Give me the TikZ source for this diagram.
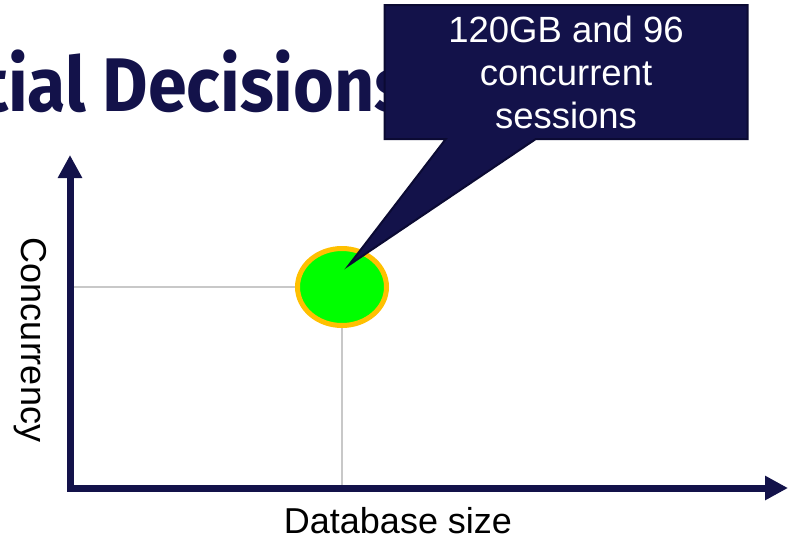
\documentclass[tikz,border=0pt]{standalone}
\usepackage{fontspec}
\setmainfont{Liberation Sans}
\newfontfamily\titlefont{Fira Sans}[FakeStretch=0.92]
\usetikzlibrary{arrows.meta,shapes.geometric,shapes.callouts}
\definecolor{navy}{HTML}{13124A}
\definecolor{navyedge}{HTML}{0B0A33}
\definecolor{guide}{HTML}{C8C8C8}
\definecolor{pointgreen}{HTML}{00FF00}
\definecolor{pointrim}{HTML}{FFC000}
\tikzset{
  axisline/.style={draw=navy, line width=7pt, line join=miter,
    {Triangle[length=23pt,width=23pt]}-{Triangle[length=23pt,width=23pt]}},
  guideline/.style={draw=guide, line width=2pt},
  label/.style={font=\fontsize{36}{43}\selectfont, text=black, inner sep=0pt},
  bubble/.style={rectangle callout, fill=navy, draw=navyedge, line width=2pt,
    text=white, align=center, inner sep=0pt,
    minimum width=363pt, minimum height=134pt,
    callout pointer width=90pt,
    font=\fontsize{36.5}{43}\selectfont},
  datapoint/.style={ellipse, fill=pointgreen, draw=pointrim, line width=5pt,
    minimum width=89pt, minimum height=77pt, inner sep=0pt},
}
\begin{document}
\begin{tikzpicture}[x=1pt, y=-1pt]
\useasboundingbox (0,0) rectangle (794,542);
\fill[white] (0,0) rectangle (794,542);

% heading, partly cut off at the left
\node[anchor=base west, inner sep=0pt, text=navy,
      font=\titlefont\bfseries\fontsize{76}{80}\selectfont] (title) at (-19,111)
  {tial Decisions};

% axes
\coordinate (ytip) at (70,155);
\coordinate (origin) at (70,488);
\coordinate (xtip) at (788,488);

% data point and its guide lines
\node[datapoint] (pt) at (342,287) {};
\coordinate (yref) at (70,287);
\coordinate (xref) at (342,488);
\draw[guideline] (yref) -- (pt.west);
\draw[guideline] (pt.south) -- (xref);

\draw[axisline] (ytip) -- (origin) -- (xtip);

% axis labels
\node[label, rotate=-90] (ylab) at (30,340) {Concurrency};
\node[label, anchor=base] (xlab) at (398,533) {Database size};

% callout
\coordinate (tip) at (349,265);
\node[bubble, callout absolute pointer={(tip)}] (note) at (566,72)
  {120GB and 96\\concurrent\\sessions};
\end{tikzpicture}
\end{document}
